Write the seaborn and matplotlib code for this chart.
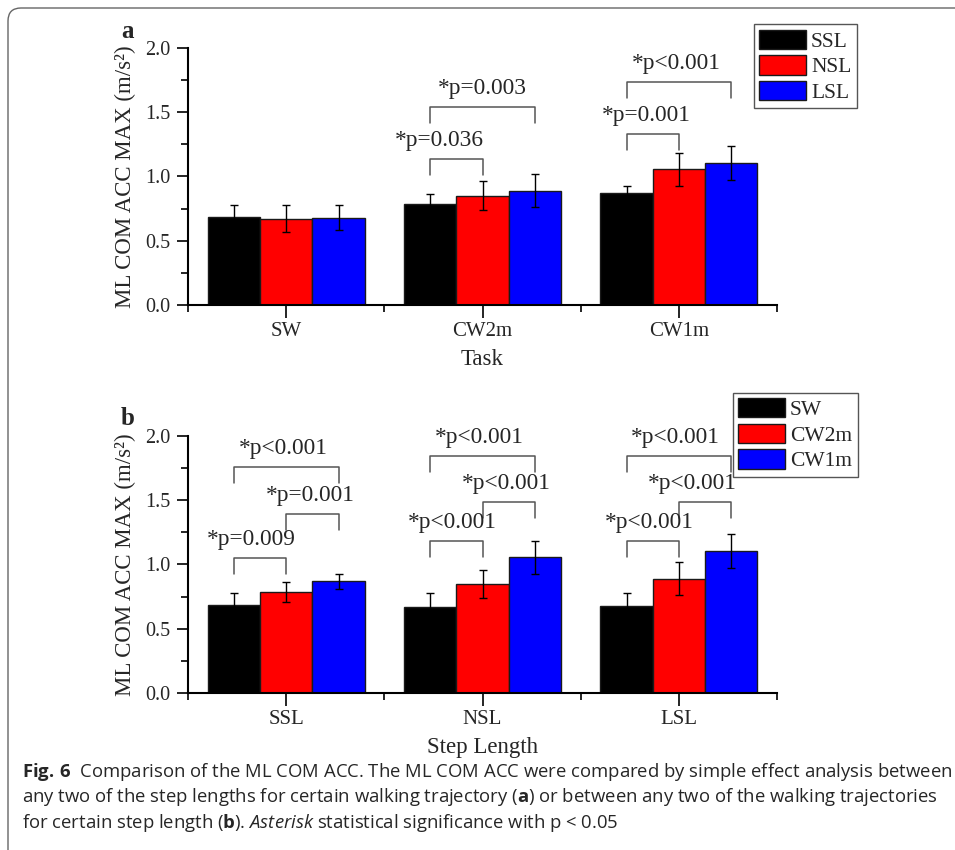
import numpy as np
import pandas as pd
import seaborn as sns
import matplotlib
matplotlib.use('Agg')
from matplotlib import pyplot as plt
from matplotlib.patches import FancyBboxPatch
from matplotlib.transforms import IdentityTransform

# data (mean and SD of ML COM ACC MAX, m/s^2)
tasks = ['SW', 'CW2m', 'CW1m']
step_lengths = ['SSL', 'NSL', 'LSL']
acc_mean = [[0.687, 0.670, 0.680],   # SW
            [0.784, 0.851, 0.890],   # CW2m
            [0.869, 1.056, 1.107]]   # CW1m
acc_sd = [[0.090, 0.105, 0.095],
          [0.078, 0.110, 0.127],
          [0.056, 0.130, 0.132]]
bar_colors = ['#000000', '#ff0000', '#0000ff']

# significance: (group, bar i, bar j, label)
sig_a = [(1, 0, 1, '*p=0.036'), (1, 0, 2, '*p=0.003'),
         (2, 0, 1, '*p=0.001'), (2, 0, 2, '*p<0.001')]
sig_b = [(0, 0, 1, '*p=0.009'), (0, 1, 2, '*p=0.001'), (0, 0, 2, '*p<0.001'),
         (1, 0, 1, '*p<0.001'), (1, 1, 2, '*p<0.001'), (1, 0, 2, '*p<0.001'),
         (2, 0, 1, '*p<0.001'), (2, 1, 2, '*p<0.001'), (2, 0, 2, '*p<0.001')]
# bracket heights and label x-shift (layout only)
sig_a_pos = [(1.134, -0.087), (1.543, 0.0), (1.328, -0.035), (1.738, -0.013)]
sig_b_pos = [(1.048, -0.045), (1.390, -0.010), (1.755, -0.015),
             (1.185, -0.020), (1.488, -0.010), (1.845, -0.018),
             (1.185, -0.020), (1.488, -0.065), (1.845, -0.020)]

rows = []
for i, t in enumerate(tasks):
    for j, s in enumerate(step_lengths):
        rows.append({'task': t, 'step': s, 'mean': acc_mean[i][j], 'sd': acc_sd[i][j]})
df = pd.DataFrame(rows)

sns.set_theme(style='ticks')
plt.rcParams['font.family'] = ['Liberation Serif', 'DejaVu Serif']
plt.rcParams['mathtext.fontset'] = 'custom'
plt.rcParams['mathtext.rm'] = 'Open Sans'
plt.rcParams['mathtext.bf'] = 'Open Sans:bold'
plt.rcParams['mathtext.it'] = 'Open Sans:italic'

fig = plt.figure(figsize=(9.55, 8.5), dpi=100)
ax_a = fig.add_axes([0.1969, 0.6412, 0.6168, 0.3024])
ax_b = fig.add_axes([0.1969, 0.1844, 0.6168, 0.3030])


def panel(ax, x, hue, order, hue_order, sigs, sig_pos, xlabel, leg_anchor):
    sns.barplot(data=df, x=x, y='mean', hue=hue, order=order, hue_order=hue_order,
                palette=bar_colors, errorbar=None, width=0.8, gap=0,
                edgecolor='#1a1a1a', linewidth=1, saturation=1, ax=ax)
    bars = list(ax.containers)
    # error bars on top of the seaborn bars
    for k, cont in enumerate(bars):
        for g, bar in enumerate(cont):
            sub = df[(df[x] == order[g]) & (df[hue] == hue_order[k])]
            ax.errorbar(bar.get_x() + bar.get_width() / 2, bar.get_height(),
                        yerr=sub['sd'].iloc[0], fmt='none', ecolor='black',
                        elinewidth=1, capsize=2.6, capthick=1, zorder=3)
    # significance brackets
    for (g, i, j, lab), (yl, dx) in zip(sigs, sig_pos):
        b1 = bars[i][g]
        b2 = bars[j][g]
        x1 = b1.get_x() + b1.get_width() / 2
        x2 = b2.get_x() + b2.get_width() / 2
        ax.plot([x1, x1, x2, x2], [yl - 0.125, yl, yl, yl - 0.125],
                color='#555555', lw=1.1, clip_on=False)
        ax.text((x1 + x2) / 2 + dx, yl + 0.1, lab, ha='center', va='baseline',
                fontsize=16.8, clip_on=False)
    ax.set_ylim(0, 2.0)
    ax.set_xlim(-0.5, 2.5)
    ax.set_yticks(np.arange(0, 2.01, 0.5))
    ax.set_yticklabels(['%.1f' % v for v in np.arange(0, 2.01, 0.5)])
    ax.set_yticks(np.arange(0.25, 2.0, 0.5), minor=True)
    ax.set_xticks([-0.5, 0.5, 1.5, 2.5], minor=True)
    ax.tick_params(axis='both', which='major', width=1.2, color='black')
    ax.tick_params(axis='x', which='major', length=9, pad=3, labelsize=15)
    ax.tick_params(axis='y', which='major', length=8, pad=5, labelsize=14.5)
    ax.tick_params(axis='both', which='minor', length=5, width=1.2, color='black')
    sns.despine(ax=ax)
    for sp in ['left', 'bottom']:
        ax.spines[sp].set_linewidth(1.5)
        ax.spines[sp].set_color('black')
    ax.set_xlabel(xlabel, fontsize=16.5, labelpad=6)
    ax.set_ylabel('ML COM ACC MAX (m/s²)', fontsize=16.5, labelpad=6)
    handles, labels = ax.get_legend_handles_labels()
    leg = ax.legend(handles, labels, loc='upper left', bbox_to_anchor=leg_anchor,
                    bbox_transform=fig.transFigure, fontsize=15.5, handlelength=2.15,
                    handleheight=1.0, labelspacing=0.17, borderpad=0.25,
                    handletextpad=0.25, borderaxespad=0, fancybox=False,
                    edgecolor='#555555', framealpha=1)
    leg.get_frame().set_linewidth(1)


panel(ax_a, 'task', 'step', tasks, step_lengths, sig_a, sig_a_pos, 'Task',
      (0.7895, 0.9714))
panel(ax_b, 'step', 'task', step_lengths, tasks, sig_b, sig_b_pos, 'Step Length',
      (0.7675, 0.5380))

fig.text(127 / 955, 1 - 38 / 850, 'a', fontsize=18, fontweight='bold', ha='center', va='baseline')
fig.text(128 / 955, 1 - 425 / 850, 'b', fontsize=18, fontweight='bold', ha='center', va='baseline')

# caption box and text
frame = FancyBboxPatch((8, -30), 1000, 842 + 30, boxstyle='round,pad=0,rounding_size=13',
                       transform=IdentityTransform(), facecolor='none',
                       edgecolor='#666666', linewidth=1)
fig.add_artist(frame)

caption = [r'$\mathbf{Fig.\,6}$  Comparison of the ML COM ACC. The ML COM ACC were compared by simple effect analysis between',
           r'any two of the step lengths for certain walking trajectory ($\mathbf{a}$) or between any two of the walking trajectories',
           r'for certain step length ($\mathbf{b}$). $\mathit{Asterisk}$ statistical significance with p < 0.05']
for k, line in enumerate(caption):
    fig.text(22 / 955, (850 - 777 - 25.5 * k) / 850, line, fontsize=13.3,
             fontfamily='Open Sans', ha='left', va='baseline')

fig.savefig('out.png', dpi=100)
